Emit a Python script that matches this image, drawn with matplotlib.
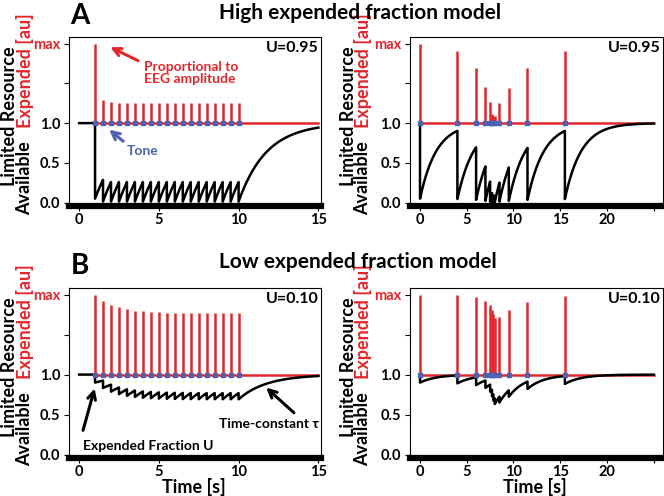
import numpy as np
import matplotlib.pyplot as plt

plt.rcParams['font.family'] = ['Lato', 'DejaVu Sans']
plt.rcParams['font.weight'] = 'bold'

RED = '#e3262b'
BLUE = '#4d62b3'

# stimulus times [s]
tones_regular = [1.0, 1.5, 2.0, 2.5, 3.0, 3.5, 4.0, 4.5, 5.0, 5.5,
                 6.0, 6.5, 7.0, 7.5, 8.0, 8.5, 9.0, 9.5, 10.0]
tones_irregular = [0.0, 4.0, 6.0, 7.0, 7.5, 7.7, 7.85, 8.0, 8.5, 9.5, 11.5, 15.5]

# expended fraction per row (printed in the panels) and recovery time constant
U_high = 0.95
U_low = 0.10
tau = 1.75

y_ticks = [0.0, 0.5, 1.0, 1.5, 2.0]
y_ticklabels = ['0.0', '0.5', '1.0', '', 'max']
x_ticks_left = [0, 5, 10, 15]
x_ticks_right = [0, 5, 10, 15, 20, 25]
x_ticklabels_right = ['0', '5', '10', '15', '20', '']


def resource(events, U, t_end):
    # depletion / recovery of the limited resource
    ts, rs, pre = [0.0], [1.0], []
    r_last, t_last = 1.0, 0.0
    bounds = list(events) + [t_end]
    for i, te in enumerate(bounds):
        seg = np.linspace(t_last, te, 60)[1:]
        for t in seg:
            ts.append(t)
            rs.append(1 - (1 - r_last) * np.exp(-(t - t_last) / tau))
        if i < len(events):
            r_pre = rs[-1]
            pre.append(r_pre)
            r_last = (1 - U) * r_pre
            t_last = te
            ts.append(te)
            rs.append(r_last)
    return np.array(ts), np.array(rs), np.array(pre)


def panel(rect, events, U, t_end, xlim, xticks, xticklabels):
    ax = fig.add_axes(rect)
    t, r, pre = resource(events, U, t_end)
    ax.plot([events[0], t_end], [1, 1], color=RED, lw=1.8, zorder=2)
    ax.vlines(events, 1, 1 + pre, color=RED, lw=1.8, zorder=2)
    ax.plot(t, r, color='black', lw=1.8, zorder=3)
    ax.plot(events, np.ones(len(events)), 's', color=BLUE, ms=2.5, zorder=4)
    ax.set_xlim(*xlim)
    ax.set_ylim(-0.04, 2.08)
    ax.set_yticks(y_ticks)
    ax.set_yticklabels(y_ticklabels, fontsize=10.5, fontweight='bold')
    ax.get_yticklabels()[-1].set_color(RED)
    ax.set_xticks(xticks)
    ax.set_xticklabels(xticklabels, fontsize=10.5, fontweight='bold')
    ax.tick_params(length=3.5, width=0.8, pad=3)
    ax.tick_params(axis='x', pad=1.5)
    for s in ['top', 'right', 'left']:
        ax.spines[s].set_linewidth(0.8)
    ax.spines['bottom'].set_linewidth(4.5)
    ax.text(0.99, 0.975, 'U=%.2f' % U, transform=ax.transAxes, ha='right', va='top',
            fontsize=11.5, fontweight='bold')
    return ax


W, H = 664.0, 496.0


def ylab(x0, dy):
    fig.text(x0 / W, 1 - (116 + dy) / H, 'Limited Resource', rotation=90,
             ha='center', va='center', fontsize=13, fontweight='bold')
    fig.text((x0 + 15) / W, 1 - (178 + dy) / H, 'Available', rotation=90,
             ha='center', va='center', fontsize=13, fontweight='bold')
    fig.text((x0 + 15) / W, 1 - (71 + dy) / H, 'Expended [au]', rotation=90,
             ha='center', va='center', fontsize=13, fontweight='bold', color=RED)


fig = plt.figure(figsize=(6.64, 4.96), dpi=100)

xl_left = (-0.63, 15.19)
xl_right = (-1.07, 26.0)
axA1 = panel([0.104, 0.585, 0.380, 0.340], tones_regular, U_high, 15,
             xl_left, x_ticks_left, [str(v) for v in x_ticks_left])
axA2 = panel([0.6175, 0.585, 0.381, 0.340], tones_irregular, U_high, 25,
             xl_right, x_ticks_right, x_ticklabels_right)
axB1 = panel([0.104, 0.077, 0.380, 0.342], tones_regular, U_low, 15,
             xl_left, x_ticks_left, [str(v) for v in x_ticks_left])
axB2 = panel([0.6175, 0.077, 0.381, 0.342], tones_irregular, U_low, 25,
             xl_right, x_ticks_right, x_ticklabels_right)

ylab(10, 0)
ylab(348, 0)
ylab(10, 251)
ylab(348, 251)

fig.text(194 / W, 1 - 487 / H, 'Time [s]', fontsize=13, fontweight='bold',
         ha='center', va='center')
fig.text(535 / W, 1 - 487 / H, 'Time [s]', fontsize=13, fontweight='bold',
         ha='center', va='center')

fig.text(80 / W, 1 - 16 / H, 'A', fontsize=20, fontweight='bold', ha='center', va='center')
fig.text(80 / W, 1 - 266 / H, 'B', fontsize=20, fontweight='bold', ha='center', va='center')
fig.text(360 / W, 1 - 13 / H, 'High expended fraction model', fontsize=15,
         fontweight='bold', ha='center', va='center')
fig.text(358 / W, 1 - 262 / H, 'Low expended fraction model', fontsize=15,
         fontweight='bold', ha='center', va='center')

# annotations
arrow = dict(arrowstyle='->', lw=2.2, mutation_scale=14)
axA1.annotate('', xy=(1.8, 1.97), xytext=(3.85, 1.77),
              arrowprops=dict(arrow, color=RED))
axA1.text(4.1, 1.78, 'Proportional to\nEEG amplitude', color=RED, fontsize=10,
          fontweight='bold', ha='left', va='top', linespacing=1.0)
axA1.annotate('', xy=(1.75, 0.94), xytext=(2.9, 0.75),
              arrowprops=dict(arrow, color=BLUE))
axA1.text(3.0, 0.65, 'Tone', color=BLUE, fontsize=10, fontweight='bold',
          ha='left', va='center')
axB1.annotate('', xy=(1.02, 0.86), xytext=(0.2, 0.27),
              arrowprops=dict(arrow, color='black'))
axB1.text(0.25, 0.11, 'Expended Fraction U', fontsize=10, fontweight='bold',
          ha='left', va='center')
axB1.annotate('', xy=(11.6, 0.86), xytext=(13.6, 0.5),
              arrowprops=dict(arrow, color='black'))
axB1.text(8.8, 0.38, 'Time-constant τ', fontsize=10, fontweight='bold',
          ha='left', va='center')

fig.savefig('out.png', dpi=100)
